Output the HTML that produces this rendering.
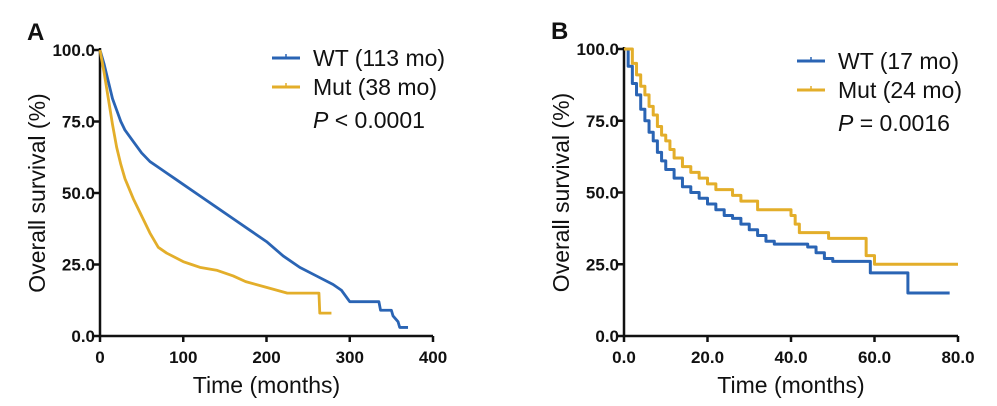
<!DOCTYPE html>
<html><head><meta charset="utf-8"><style>
body{margin:0;background:#fff;}
svg{display:block;font-family:"Liberation Sans",Arial,sans-serif;}
.tick{font-size:17px;font-weight:bold;fill:#111;}
.title{font-size:23px;fill:#111;}
.leg{font-size:23px;fill:#111;}
</style></head><body>
<svg id="chart" width="997" height="406"></svg>
<script>
const aWtT=[0,5,10,15,20,25,30,40,50,60,70,80,90,100,120,140,160,180,200,220,240,260,280,290,300,335,337,350,352,358,360,370];
const aWtS=[100,95,89,83,79,75,72,68,64,61,59,57,55,53,49,45,41,37,33,28,24,21,18,16,12,12,9,9,7,5,3,3];
const aMutT=[0,5,10,15,20,25,30,40,50,60,70,80,100,110,120,140,160,175,200,225,263,264,278];
const aMutS=[100,92,83,74,66,60,55,48,42,36,31,29,26,25,24,23,21,19,17,15,15,8,8];
const bWtT=[0,1,2,3,4,5,6,7,8,9,10,12,14,16,18,20,22,24,26,28,30,32,34,36,44,46,48,50,59,68,78];
const bWtS=[100,94,88,84,79,75,71,68,64,61,58,55,52,50,48,46,44,42,41,39,37,35,33,32,31,29,27,26,22,15,15];
const bMutT=[0,2,3,4,5,6,7,8,9,10,11,12,14,16,18,20,22,26,28,32,40,41,42,49,58,60,80];
const bMutS=[100,95,91,87,84,80,77,73,70,68,65,62,59,57,55,53,51,49,47,44,42,39,36,34,28,25,25];
const aTicksX=["0","100","200","300","400"];
const bTicksX=["0.0","20.0","40.0","60.0","80.0"];
const yTicks=["0.0","25.0","50.0","75.0","100.0"];
const BLUE="#2a64b4",GOLD="#e3ae2a";
const svg=document.getElementById('chart');
const NS="http://www.w3.org/2000/svg";
function mk(tag,attrs,parent){const e=document.createElementNS(NS,tag);for(const k in attrs)e.setAttribute(k,attrs[k]);(parent||svg).appendChild(e);return e;}
function panel(p){
  const sx=v=>p.x0+(v-p.xmin)/(p.xmax-p.xmin)*(p.x1-p.x0);
  const sy=v=>p.y0-(v/100)*(p.y0-p.y1);
  const g=mk('g',{});
  
  
  const ax=mk('path',{d:`M${p.x0},${p.y1-2}V${p.y0}H${p.x1}`,stroke:'#111','stroke-width':2.5,fill:'none'},g);
  
  
  yTicks.forEach((t,i)=>{const v=parseFloat(t);const y=sy(v);
    mk('line',{x1:p.x0-6,x2:p.x0,y1:y,y2:y,stroke:'#111','stroke-width':2.5},g);
    const tx=mk('text',{x:p.x0-5,y:y+6,'text-anchor':'end',class:'tick'},g);tx.textContent=t;
    
    });
  p.xt.forEach((t,i)=>{const v=p.xmin+i*(p.xmax-p.xmin)/(p.xt.length-1);const x=sx(v);
    mk('line',{x1:x,x2:x,y1:p.y0,y2:p.y0+6,stroke:'#111','stroke-width':2.5},g);
    const tx=mk('text',{x:x,y:p.y0+27,'text-anchor':'middle',class:'tick'},g);tx.textContent=t;
    
    });
  const xt=mk('text',{x:(p.x0+p.x1)/2,y:p.y0+57,'text-anchor':'middle',class:'title'},g);xt.textContent='Time (months)';
  
  
  const yx=p.x0-55,yc=(p.y0+p.y1)/2;
  const yt=mk('text',{x:yx,y:yc,'text-anchor':'middle',class:'title',transform:`rotate(-90 ${yx} ${yc})`},g);yt.textContent='Overall survival (%)';
  
  
  const lt=mk('text',{x:p.x0-73,y:p.y1-10,'font-size':24,'font-weight':'bold',fill:'#111'},g);lt.textContent=p.label;
  
  
  p.series.forEach(s=>{
    let d=`M${sx(s.t[0])},${sy(s.s[0])}`;
    for(let i=1;i<s.t.length;i++){d+= p.step?`H${sx(s.t[i])}V${sy(s.s[i])}`:`L${sx(s.t[i])},${sy(s.s[i])}`;}
    const l=mk('path',{d:d,stroke:s.c,'stroke-width':p.step?3:2.8,fill:'none','stroke-linejoin':'round'},g);
    
    
  });
  p.legend.forEach((L,i)=>{
    const y=p.ly+i*29;
    mk('line',{x1:p.lx,x2:p.lx+28,y1:y,y2:y,stroke:L.c,'stroke-width':3},g);
    mk('line',{x1:p.lx+14,x2:p.lx+14,y1:y-4,y2:y,stroke:L.c,'stroke-width':1.5},g);
    const t=mk('text',{x:p.lx+41,y:y+8,class:'leg'},g);t.textContent=L.t;
    
    
  });
  const pt=mk('text',{x:p.lx+41,y:p.ly+70,class:'leg'},g);
  pt.innerHTML='<tspan font-style="italic">P</tspan> '+p.ptext;
  
  
}
panel({name:'panel-a',label:'A',step:false,x0:100,x1:433,y0:336,y1:50,xmin:0,xmax:400,xt:aTicksX,
  series:[{name:'wt-curve',t:aWtT,s:aWtS,c:BLUE},{name:'mut-curve',t:aMutT,s:aMutS,c:GOLD}],
  legend:[{t:'WT (113 mo)',c:BLUE},{t:'Mut (38 mo)',c:GOLD}],lx:272,ly:58,ptext:'< 0.0001'});
panel({name:'panel-b',label:'B',step:true,x0:624,x1:958,y0:336,y1:49,xmin:0,xmax:80,xt:bTicksX,
  series:[{name:'wt-curve',t:bWtT,s:bWtS,c:BLUE},{name:'mut-curve',t:bMutT,s:bMutS,c:GOLD}],
  legend:[{t:'WT (17 mo)',c:BLUE},{t:'Mut (24 mo)',c:GOLD}],lx:797,ly:61,ptext:'= 0.0016'});
</script>
</body></html>
